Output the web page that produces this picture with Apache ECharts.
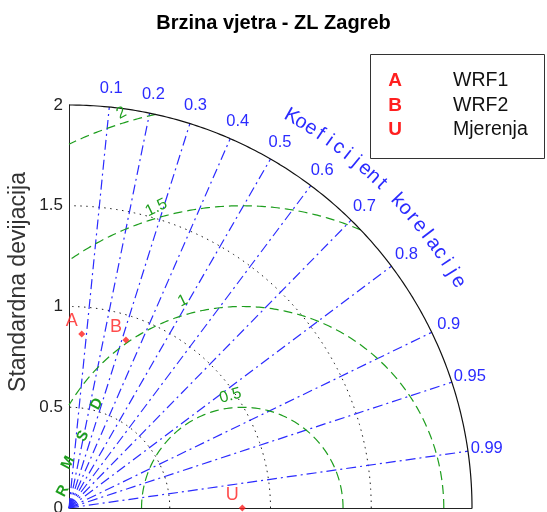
<!DOCTYPE html>
<html>
<head>
<meta charset="utf-8">
<script src="https://cdn.jsdelivr.net/npm/echarts@6/dist/echarts.min.js"></script>
<style>
  html, body { margin: 0; padding: 0; background: #fff; }
  #main { width: 547px; height: 512px; }
</style>
</head>
<body>
<div id="main"></div>
<script>
// Taylor diagram: wind speed, ZL Zagreb
const titleText = 'Brzina vjetra - ZL Zagreb';
const yAxisTitle = 'Standardna devijacija';
const corrAxisTitle = 'Koeficijent korelacije';

const markerLetters = ['A', 'B', 'U'];
const seriesNames = ['WRF1', 'WRF2', 'Mjerenja'];
const stdDevs = [0.866, 0.880, 0.860];
const correlations = [0.073, 0.321, 1.0];
const refIndex = 2; // measurements are the reference point

const corrTicks = [0.1, 0.2, 0.3, 0.4, 0.5, 0.6, 0.7, 0.8, 0.9, 0.95, 0.99];
const corrTickLabels = ['0.1', '0.2', '0.3', '0.4', '0.5', '0.6', '0.7', '0.8', '0.9', '0.95', '0.99'];
const stdRings = [0.5, 1, 1.5];
const stdMax = 2;
const rmsLevels = [0.5, 1, 1.5, 2];
const rmsLabels = ['0.5', '1', '1.5', '2'];
const rmsTag = ['R', 'M', 'S', 'D'];

const FONT = "'Liberation Sans', Arial, sans-serif";
const BLUE = '#2b2bff';
const GREEN = '#1e9e1e';
const RED = '#ff1f1f';

const deg = Math.PI / 180;
const refStd = stdDevs[refIndex];

// arc around (cx, 0) with radius r, from angle a0 to a1 (radians)
function arcPoints(cx, r, a0, a1, n) {
  const pts = [];
  for (let i = 0; i <= n; i++) {
    const a = a0 + (a1 - a0) * i / n;
    pts.push([cx + r * Math.cos(a), r * Math.sin(a)]);
  }
  return pts;
}

// RMS-difference circle centred on the reference, kept inside the quarter disc
function rmsArc(r) {
  let a0 = 0, a1 = Math.PI;
  if (refStd + r > stdMax) {
    a0 = Math.acos((stdMax * stdMax - refStd * refStd - r * r) / (2 * refStd * r));
  }
  if (refStd - r < 0) {
    a1 = Math.acos(-refStd / r);
  }
  return arcPoints(refStd, r, a0, a1, 240);
}

const lineBase = { type: 'line', showSymbol: false, silent: true, clip: false, animation: false };

const series = [];

stdRings.forEach(r => {
  series.push(Object.assign({}, lineBase, {
    data: arcPoints(0, r, 0, Math.PI / 2, 180),
    lineStyle: { color: '#222', width: 1, type: [1.5, 4.5] },
    z: 1
  }));
});

corrTicks.forEach(c => {
  series.push(Object.assign({}, lineBase, {
    data: [[0, 0], [stdMax * c, stdMax * Math.sqrt(1 - c * c)]],
    lineStyle: { color: BLUE, width: 1.2, type: [10, 4, 2, 4] },
    z: 2
  }));
});

rmsLevels.forEach(r => {
  series.push(Object.assign({}, lineBase, {
    data: rmsArc(r),
    lineStyle: { color: GREEN, width: 1.2, type: [9, 5] },
    z: 3
  }));
});

series.push(Object.assign({}, lineBase, {
  data: arcPoints(0, stdMax, 0, Math.PI / 2, 360),
  lineStyle: { color: '#111', width: 1.2, type: 'solid' },
  z: 4
}));

series.push({
  type: 'scatter',
  silent: true,
  animation: false,
  symbol: 'diamond',
  symbolSize: 7,
  itemStyle: { color: RED },
  data: stdDevs.map((s, i) => [s * correlations[i], s * Math.sqrt(1 - correlations[i] * correlations[i])]),
  label: {
    show: true,
    position: 'inside',
    offset: [-10, -13],
    formatter: p => markerLetters[p.dataIndex],
    color: RED,
    fontSize: 18,
    fontFamily: FONT
  },
  z: 10
});

const chart = echarts.init(document.getElementById('main'));
chart.setOption({
  backgroundColor: '#fff',
  animation: false,
  title: {
    text: titleText,
    left: 'center',
    top: 8,
    textStyle: { fontSize: 20, fontWeight: 'bold', color: '#000', fontFamily: FONT }
  },
  grid: { left: 69, top: 105, width: 403, height: 403, containLabel: false, outerBoundsMode: 'none' },
  xAxis: {
    type: 'value', min: 0, max: stdMax,
    axisLine: { show: true, lineStyle: { color: '#222', width: 1 } },
    axisTick: { show: false }, axisLabel: { show: false }, splitLine: { show: false }
  },
  yAxis: {
    type: 'value', min: 0, max: stdMax, interval: 0.5,
    axisLine: { show: true, lineStyle: { color: '#222', width: 1 } },
    axisTick: { show: false },
    axisLabel: { fontSize: 17, color: '#222', margin: 6, fontFamily: FONT },
    splitLine: { show: false }
  },
  series: series
});

// text annotations placed through the grid's coordinate system
const px = (x, y) => chart.convertToPixel({ gridIndex: 0 }, [x, y]);
const graphics = [];

function addText(p, text, opts) {
  graphics.push({
    type: 'text', x: p[0], y: p[1], rotation: opts.rotation || 0, silent: true, z: 20,
    style: {
      text: text, fill: opts.color, fontSize: opts.size, fontFamily: FONT,
      fontWeight: opts.weight || 'normal', align: opts.align || 'center', verticalAlign: 'middle'
    }
  });
}

// vertical axis title
addText([19, 282], yAxisTitle, { color: '#333', size: 23, rotation: 90 * deg });

// correlation tick labels
const corrLabelR = 2.094;
corrTicks.forEach((c, i) => {
  addText(px(corrLabelR * c, corrLabelR * Math.sqrt(1 - c * c)), corrTickLabels[i], { color: BLUE, size: 16.5 });
});

// curved correlation axis title
const titleR = 2.235, titleA0 = 60.4, titleA1 = 30.2;
const chars = corrAxisTitle.split('');
chars.forEach((ch, i) => {
  const a = (titleA0 + (titleA1 - titleA0) * i / (chars.length - 1)) * deg;
  addText(px(titleR * Math.cos(a), titleR * Math.sin(a)), ch, { color: BLUE, size: 20, rotation: a - Math.PI / 2 });
});

// RMS contour labels
const rmsLabelAngle = [96, 106, 106, 107];
const rmsLabelRad = [0.56, 1.07, 1.55, 2.05];
rmsLevels.forEach((r, i) => {
  const a = rmsLabelAngle[i] * deg;
  addText(px(refStd + rmsLabelRad[i] * Math.cos(a), rmsLabelRad[i] * Math.sin(a)), rmsLabels[i],
    { color: GREEN, size: 16, rotation: a - Math.PI / 2 + 10 * deg });
});

// RMS tag along the vertical axis
const tagPos = [[-0.03, 0.084], [-0.005, 0.224], [0.069, 0.357], [0.139, 0.516]];
rmsTag.forEach((ch, i) => {
  addText(px(tagPos[i][0], tagPos[i][1]), ch, { color: GREEN, size: 15, weight: 'bold', rotation: 62 * deg });
});

// legend box
graphics.push({
  type: 'rect', silent: true, z: 15,
  shape: { x: 370.5, y: 54.5, width: 174, height: 104 },
  style: { fill: '#fff', stroke: '#333', lineWidth: 1 }
});
seriesNames.forEach((name, i) => {
  const y = 81 + i * 24.5;
  addText([395, y], markerLetters[i], { color: RED, size: 19, weight: 'bold' });
  addText([453, y], name, { color: '#111', size: 19.5, align: 'left' });
});

chart.setOption({ graphic: graphics });
</script>
</body>
</html>
